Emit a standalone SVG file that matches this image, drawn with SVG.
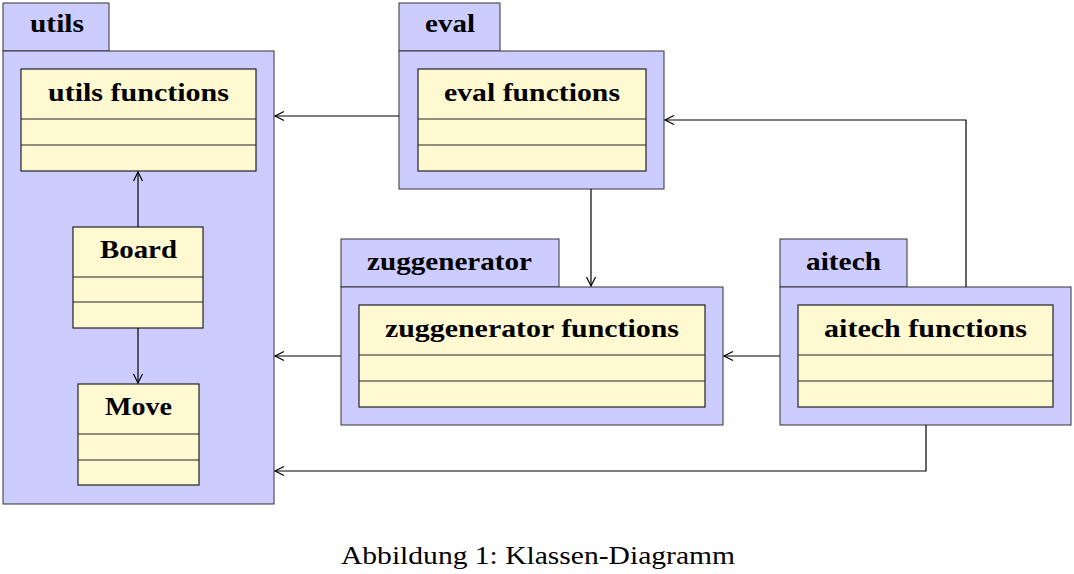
<svg xmlns="http://www.w3.org/2000/svg" width="1074" height="574" viewBox="0 0 1074 574">
<style>
.pkg{fill:#ccccff;stroke:#333;stroke-width:1}
.cls{fill:#fff9d2;stroke:#222;stroke-width:1.2}
.div{stroke:#222;stroke-width:1.2}
.t{font-family:"Liberation Serif","DejaVu Serif",serif;font-weight:bold;font-size:25px;fill:#000}
.tm{text-anchor:middle}
.c{fill:none;stroke:#000;stroke-width:1.2}
.cap{font-family:"Liberation Serif","DejaVu Serif",serif;font-size:25px;fill:#000}
</style>
<defs>
<marker id="a" markerWidth="12" markerHeight="12" refX="10" refY="6" orient="auto" markerUnits="userSpaceOnUse">
<path d="M1,1.5 L10,6 L1,10.5" fill="none" stroke="#000" stroke-width="1.2"/>
</marker>
</defs>
<rect width="1074" height="574" fill="#fff"/>

<g id="utils">
<rect class="pkg" x="3" y="3" width="106" height="48"/>
<rect class="pkg" x="3" y="51" width="271" height="453"/>
<text class="t" x="30" y="32" textLength="54" lengthAdjust="spacingAndGlyphs">utils</text>
</g>
<g id="utils-functions">
<rect class="cls" x="21" y="69" width="235" height="102"/>
<line class="div" x1="21" y1="119" x2="256" y2="119"/>
<line class="div" x1="21" y1="145" x2="256" y2="145"/>
<text class="t" x="48" y="101" textLength="181" lengthAdjust="spacingAndGlyphs">utils functions</text>
</g>
<g id="Board">
<rect class="cls" x="73" y="227" width="130" height="101"/>
<line class="div" x1="73" y1="277" x2="203" y2="277"/>
<line class="div" x1="73" y1="302" x2="203" y2="302"/>
<text class="t" x="100" y="258" textLength="77" lengthAdjust="spacingAndGlyphs">Board</text>
</g>
<g id="Move">
<rect class="cls" x="78" y="384" width="121" height="101"/>
<line class="div" x1="78" y1="434" x2="199" y2="434"/>
<line class="div" x1="78" y1="460" x2="199" y2="460"/>
<text class="t" x="105" y="415" textLength="67" lengthAdjust="spacingAndGlyphs">Move</text>
</g>

<g id="eval">
<rect class="pkg" x="399" y="3" width="101" height="48"/>
<rect class="pkg" x="399" y="51" width="265" height="138"/>
<text class="t" x="425" y="32" textLength="50" lengthAdjust="spacingAndGlyphs">eval</text>
</g>
<g id="eval-functions">
<rect class="cls" x="418" y="69" width="228" height="102"/>
<line class="div" x1="418" y1="119" x2="646" y2="119"/>
<line class="div" x1="418" y1="145" x2="646" y2="145"/>
<text class="t" x="444" y="101" textLength="176" lengthAdjust="spacingAndGlyphs">eval functions</text>
</g>

<g id="zuggenerator">
<rect class="pkg" x="341" y="239" width="218" height="48"/>
<rect class="pkg" x="341" y="287" width="382" height="138"/>
<text class="t" x="367" y="270" textLength="165" lengthAdjust="spacingAndGlyphs">zuggenerator</text>
</g>
<g id="zuggenerator-functions">
<rect class="cls" x="359" y="305" width="346" height="102"/>
<line class="div" x1="359" y1="355" x2="705" y2="355"/>
<line class="div" x1="359" y1="381" x2="705" y2="381"/>
<text class="t" x="385" y="337" textLength="294" lengthAdjust="spacingAndGlyphs">zuggenerator functions</text>
</g>

<g id="aitech">
<rect class="pkg" x="780" y="239" width="127" height="48"/>
<rect class="pkg" x="780" y="287" width="291" height="138"/>
<text class="t" x="806" y="270" textLength="75" lengthAdjust="spacingAndGlyphs">aitech</text>
</g>
<g id="aitech-functions">
<rect class="cls" x="798" y="305" width="255" height="102"/>
<line class="div" x1="798" y1="355" x2="1053" y2="355"/>
<line class="div" x1="798" y1="381" x2="1053" y2="381"/>
<text class="t" x="824" y="337" textLength="203" lengthAdjust="spacingAndGlyphs">aitech functions</text>
</g>

<g id="connectors">
<path class="c" d="M399,116 H275" marker-end="url(#a)"/>
<path class="c" d="M966,287 V120 H665" marker-end="url(#a)"/>
<path class="c" d="M591,189 V286" marker-end="url(#a)"/>
<path class="c" d="M341,356 H275" marker-end="url(#a)"/>
<path class="c" d="M780,356 H724" marker-end="url(#a)"/>
<path class="c" d="M926,425 V471 H275" marker-end="url(#a)"/>
<path class="c" d="M138,227 V172" marker-end="url(#a)"/>
<path class="c" d="M138,328 V383" marker-end="url(#a)"/>
</g>

<text class="cap" x="341" y="564" textLength="394" lengthAdjust="spacingAndGlyphs">Abbildung 1: Klassen-Diagramm</text>
</svg>
